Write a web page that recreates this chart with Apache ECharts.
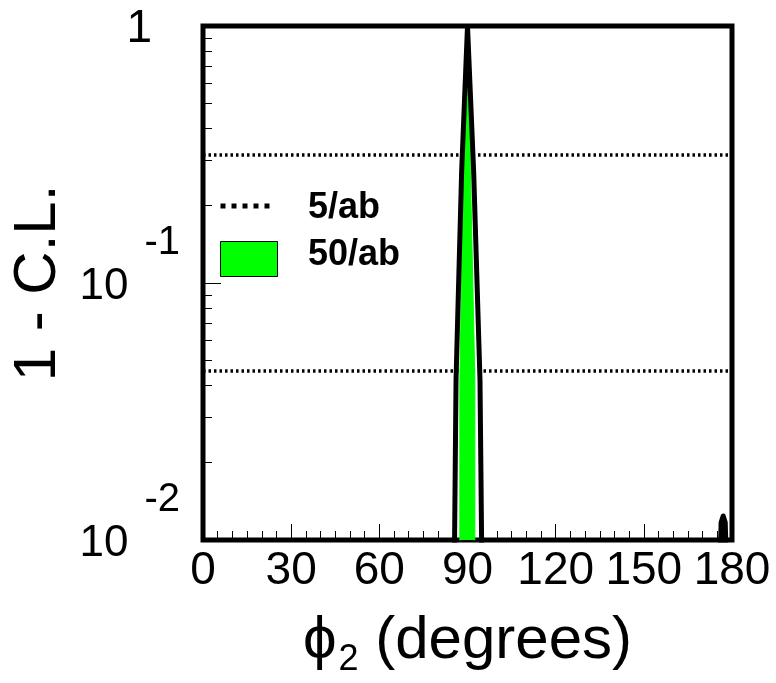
<!DOCTYPE html>
<html>
<head>
<meta charset="utf-8">
<script src="https://cdn.jsdelivr.net/npm/echarts@6/dist/echarts.min.js"></script>
<style>
  html, body { margin: 0; padding: 0; background: #fff; }
  #chart { width: 776px; height: 683px; }
</style>
</head>
<body>
<div id="chart"></div>
<script>
// values
const xTicks = [0, 30, 60, 90, 120, 150, 180];
const yMajor = [0.01, 0.1, 1];
const yExp = ['-2', '-1', ''];
const yMinor = [0.02, 0.03, 0.04, 0.05, 0.06, 0.07, 0.08, 0.09, 0.2, 0.3, 0.4, 0.5, 0.6, 0.7, 0.8, 0.9];

// dotted reference levels (1 and 2 sigma)
const levelY = [0.315, 0.0455];

// black curve: main peak and small bump near 177
const peakX = [85.3, 85.6, 86.1, 88.0, 90.0, 92.1, 94.25, 94.8, 95.1];
const peakY = [0.005, 0.01, 0.042, 0.27, 1.0, 0.27, 0.042, 0.01, 0.005];
const bumpX = [175.9, 176.3, 177.0, 177.7, 178.1];
const bumpY = [0.008, 0.0117, 0.0124, 0.0117, 0.008];

// green band (50/ab)
const greenX = [87.4, 87.4, 88.6, 90.0, 91.0, 92.5, 92.5];
const greenY = [0.005, 0.042, 0.27, 1.0, 0.27, 0.042, 0.005];

const FONT = "'Liberation Sans', Arial, sans-serif";

const pair = (xs, ys) => xs.map((x, i) => [x, ys[i]]);

const chart = echarts.init(document.getElementById('chart'));

const option = {
    animation: false,
    backgroundColor: '#fff',
    grid: {
        left: 203, right: 44, top: 23.5, bottom: 140,
        show: true,
        borderColor: '#000',
        borderWidth: 5,
        backgroundColor: 'transparent'
    },
    xAxis: {
        type: 'value',
        min: 0,
        max: 180,
        interval: 30,
        splitLine: { show: false },
        axisLine: { show: false },
        axisTick: { show: true, inside: true, length: 16, lineStyle: { color: '#000', width: 1 } },
        minorTick: { show: true, splitNumber: 6, length: 9, lineStyle: { color: '#000', width: 1 } },
        axisLabel: {
            margin: 8,
            fontSize: 46,
            fontFamily: FONT,
            color: '#000',
            formatter: v => xTicks.includes(v) ? String(v) : ''
        },
        name: '{phi|ϕ}{sub|2}{txt| (degrees)}',
        nameLocation: 'middle',
        nameGap: 71,
        nameTextStyle: {
            rich: {
                phi: { fontSize: 60, lineHeight: 60, fontFamily: FONT, color: '#000' },
                sub: { fontSize: 36, lineHeight: 36, fontFamily: FONT, color: '#000', padding: [38, 0, 0, 2] },
                txt: { fontSize: 60, lineHeight: 60, fontFamily: FONT, color: '#000' }
            }
        }
    },
    yAxis: [
        {
            type: 'log',
            logBase: 10,
            min: 0.01,
            max: 1,
            splitLine: { show: false },
            axisLine: { show: false },
            axisTick: { show: true, inside: true, length: 18, lineStyle: { color: '#000', width: 1 } },
            axisLabel: {
                margin: 23,
                color: '#000',
                formatter: v => {
                    const i = yMajor.findIndex(t => Math.abs(t - v) < v * 1e-6);
                    if (i < 0) return '';
                    if (yExp[i] === '') return '{one|1}';
                    return '{base|10}{exp|' + yExp[i] + '}';
                },
                rich: {
                    one: { fontSize: 46, lineHeight: 46, fontFamily: FONT, color: '#000', padding: [6, 28, 0, 0] },
                    base: { fontSize: 44, lineHeight: 44, fontFamily: FONT, color: '#000', padding: [8, 0, 0, 0] },
                    exp: { fontSize: 40, lineHeight: 40, fontFamily: FONT, color: '#000', padding: [0, 0, 80, 16] }
                }
            },
            name: '1 - C.L.',
            nameLocation: 'middle',
            nameRotate: 90,
            nameGap: 130,
            nameTextStyle: { fontSize: 60, fontFamily: FONT, color: '#000' }
        },
        {
            // second axis only for the log minor ticks
            type: 'log',
            logBase: 10,
            min: 0.01,
            max: 1,
            position: 'left',
            splitLine: { show: false },
            axisLine: { show: false },
            axisLabel: { show: false },
            axisTick: { show: true, inside: true, length: 9, customValues: yMinor, lineStyle: { color: '#000', width: 1 } }
        }
    ],
    graphic: [
        {
            type: 'line',
            shape: { x1: 220.5, y1: 206, x2: 270, y2: 206 },
            style: { stroke: '#000', lineWidth: 5, lineDash: [5, 6] }
        },
        {
            type: 'text',
            left: 308, top: 190,
            style: { text: '5/ab', font: 'bold 36px ' + FONT, fill: '#000' }
        },
        {
            type: 'rect',
            shape: { x: 220.5, y: 241.5, width: 57, height: 35 },
            style: { fill: '#00ff00', stroke: '#000', lineWidth: 1 }
        },
        {
            type: 'text',
            left: 308, top: 237,
            style: { text: '50/ab', font: 'bold 36px ' + FONT, fill: '#000' }
        }
    ],
    series: [
        {
            name: 'level1',
            type: 'line',
            symbol: 'none',
            data: [[0, levelY[0]], [180, levelY[0]]],
            lineStyle: { color: '#000', width: 3.5, type: [2.5, 3] },
            z: 2
        },
        {
            name: 'level2',
            type: 'line',
            symbol: 'none',
            data: [[0, levelY[1]], [180, levelY[1]]],
            lineStyle: { color: '#000', width: 3.5, type: [2.5, 3] },
            z: 2
        },
        {
            name: '50/ab',
            type: 'line',
            symbol: 'none',
            data: pair(greenX, greenY),
            lineStyle: { color: '#00ff00', width: 1 },
            areaStyle: { color: '#00ff00', opacity: 1 },
            z: 3
        },
        {
            name: 'peak',
            type: 'line',
            symbol: 'none',
            data: pair(peakX, peakY),
            lineStyle: { color: '#000', width: 5 },
            z: 4
        },
        {
            name: 'bump',
            type: 'line',
            symbol: 'none',
            data: pair(bumpX, bumpY),
            lineStyle: { color: '#000', width: 5, join: 'round' },
            z: 4
        }
    ]
};

chart.setOption(option);
</script>
</body>
</html>
